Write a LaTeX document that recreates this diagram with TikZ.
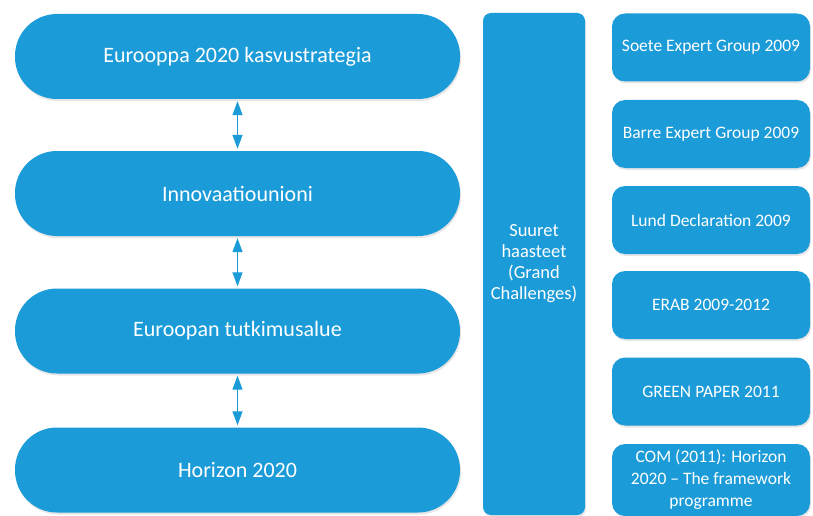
\documentclass[tikz,border=0pt]{standalone}
\usepackage{fontspec}
\setmainfont{Carlito}
\usetikzlibrary{arrows.meta,shadows}
\definecolor{euroblue}{RGB}{27,155,216}
\begin{document}
\begin{tikzpicture}[x=1pt,y=-1pt,
  pill/.style={fill=euroblue, text=white, minimum width=445pt, minimum height=85pt,
    rounded corners=42pt, font=\fontsize{22}{26}\selectfont,
    drop shadow={shadow xshift=1pt, shadow yshift=-2pt, opacity=0.2}},
  tallbox/.style={fill=euroblue, text=white, minimum width=102pt,
    minimum height=502pt, inner sep=0pt, rounded corners=8pt, align=center,
    font=\fontsize{18.5}{21}\selectfont,
    drop shadow={shadow xshift=1pt, shadow yshift=-2pt, opacity=0.2}},
  srcbox/.style={fill=euroblue, text=white, minimum width=198pt,
    minimum height=68pt, inner sep=0pt, rounded corners=13pt, align=center,
    font=\fontsize{17.5}{21}\selectfont,
    drop shadow={shadow xshift=1pt, shadow yshift=-2pt, opacity=0.2}},
  link/.style={draw=euroblue, line width=1.3pt, shorten <=2pt, shorten >=2pt,
    {Triangle[width=10pt,length=14pt]}-{Triangle[width=10pt,length=14pt]}}]
\useasboundingbox (0,0) rectangle (813,516);

% main policy chain
\node[pill] (p1) at (237.5,56.5)  {Eurooppa 2020 kasvustrategia};
\node[pill] (p2) at (237.5,193.5) {Innovaatiounioni};
\node[pill] (p3) at (237.5,331)   {Euroopan tutkimusalue};
\node[pill] (p4) at (237.5,470)   {Horizon 2020};

\draw[link] (p1.south) -- (p2.north);
\draw[link] (p2.south) -- (p3.north);
\draw[link] (p3.south) -- (p4.north);

% grand challenges column
\node[tallbox] (gc) at (534,264) {Suuret\\haasteet\\(Grand\\Challenges)};

% background documents
\node[srcbox] (s1) at (711,47.5)  {Soete Expert Group 2009};
\node[srcbox] (s2) at (711,134)   {Barre Expert Group 2009};
\node[srcbox] (s3) at (711,220)   {Lund Declaration 2009};
\node[srcbox] (s4) at (711,305)   {ERAB 2009-2012};
\node[srcbox] (s5) at (711,391.5) {GREEN PAPER 2011};
\node[srcbox,minimum height=72pt,font=\fontsize{17.5}{22}\selectfont] (s6) at (711,480) {COM (2011): Horizon\\2020 – The framework\\programme};
\end{tikzpicture}
\end{document}
